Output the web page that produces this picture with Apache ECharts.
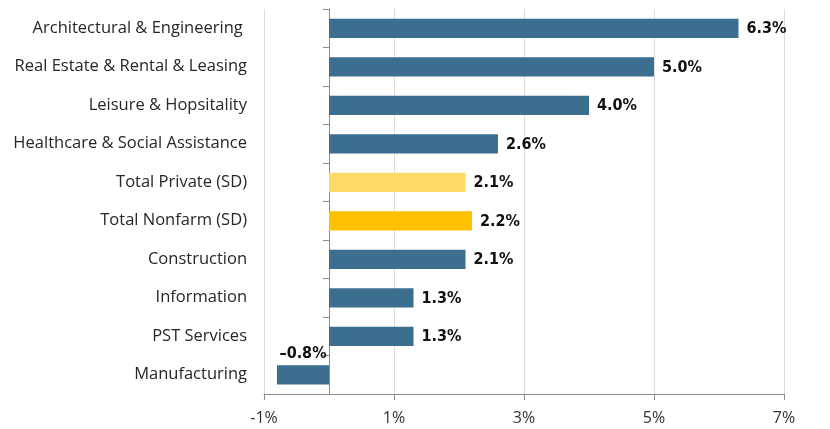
<!DOCTYPE html>
<html><head><meta charset="utf-8">
<script src="https://cdn.jsdelivr.net/npm/echarts@6/dist/echarts.min.js"></script>
<style>html,body{margin:0;padding:0;background:#fff}#c{width:830px;height:429px}</style>
</head><body><div id="c"></div>
<script>
const categories = ["Architectural & Engineering ","Real Estate & Rental & Leasing","Leisure & Hopsitality","Healthcare & Social Assistance","Total Private (SD)","Total Nonfarm (SD)","Construction","Information","PST Services","Manufacturing"];
const values = [6.3, 5.0, 4.0, 2.6, 2.1, 2.2, 2.1, 1.3, 1.3, -0.8];
const xTicks = [-1, 1, 3, 5, 7];
const colorMain = '#3c6e8f';
const colorSpecial = {"Total Private (SD)": '#ffd966', "Total Nonfarm (SD)": '#ffc000'};

const chart = echarts.init(document.getElementById('c'));
chart.setOption({
  animation: false,
  grid: {left: 264, right: 46, top: 9, bottom: 35, containLabel: false},
  xAxis: {
    type: 'value', min: xTicks[0], max: xTicks[xTicks.length-1], interval: 2,
    axisLine: {show: true, onZero: false, lineStyle: {color: '#8c8c8c'}},
    axisTick: {show: true, length: 6, lineStyle: {color: '#8c8c8c'}},
    splitLine: {show: true, lineStyle: {color: '#dcdcdc'}},
    axisLabel: {formatter: v => v + '%', fontFamily: 'Open Sans', fontSize: 16, color: '#333', margin: 16}
  },
  yAxis: [{
    type: 'category', data: categories, inverse: true, position: 'left',
    axisLine: {show: false, onZero: false}, axisTick: {show: false},
    axisLabel: {fontFamily: 'Open Sans', fontSize: 16.5, color: '#262626', margin: 17}
  }, {
    type: 'category', data: categories, inverse: true, position: 'left',
    axisLine: {show: true, onZero: true, lineStyle: {color: '#8c8c8c'}},
    axisTick: {show: true, length: 6, lineStyle: {color: '#8c8c8c'}},
    axisLabel: {show: false}
  }],
  series: [{
    type: 'bar', yAxisIndex: 0, barWidth: '50%',
    data: values.map((v, i) => ({
      value: v,
      itemStyle: {color: colorSpecial[categories[i]] || colorMain},
      label: {position: v < 0 ? 'top' : 'right', distance: v < 0 ? 3 : 8, offset: v < 0 ? [0, 0] : [0, 1]}
    })),
    label: {
      show: true,
      formatter: p => (p.value < 0 ? '\u2013' + Math.abs(p.value).toFixed(1) : p.value.toFixed(1)) + '%',
      fontFamily: '"DejaVu Sans Condensed", "Liberation Sans Narrow", sans-serif', fontWeight: 'bold', fontSize: 16, color: '#111'
    }
  }]
});
</script></body></html>
